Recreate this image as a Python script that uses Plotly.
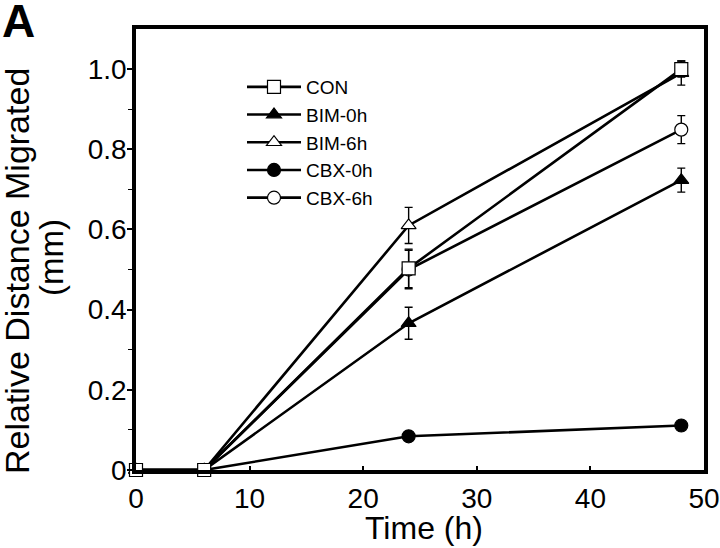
import plotly.graph_objects as go

times = [0, 6, 24, 48]
series_names = ["CON", "BIM-0h", "BIM-6h", "CBX-0h", "CBX-6h"]
con = [0, 0, 0.503, 1.00]
con_err = [0, 0, 0.048, 0.02]
bim0 = [0, 0, 0.366, 0.723]
bim0_err = [0, 0, 0.040, 0.030]
bim6 = [0, 0, 0.61, 0.99]
bim6_err = [0, 0, 0.045, 0.03]
cbx0 = [0, 0, 0.084, 0.111]
cbx0_err = [0, 0, 0, 0]
cbx6 = [0, 0, 0.50, 0.849]
cbx6_err = [0, 0, 0.048, 0.035]

y_ticks = [0, 0.2, 0.4, 0.6, 0.8, 1.0]
y_ticklabels = ["0", "0.2", "0.4", "0.6", "0.8", "1.0"]
y_minor = [0.1, 0.3, 0.5, 0.7, 0.9]
x_ticks = [0, 10, 20, 30, 40, 50]

FONT = "Liberation Sans, Arial, Helvetica, sans-serif"

W, H = 720, 548
# plot box in window pixels: x 136..704, y 29..470
ML, MR, MT, MB = 136, 16, 29, 78
PW, PH = W - ML - MR, H - MT - MB


def px_x(px):
    return (px - ML) / PW


def px_y(py):
    return (H - MB - py) / PH


styles = {
    "CON": dict(symbol="square", color="white"),
    "BIM-0h": dict(symbol="triangle-up", color="black"),
    "BIM-6h": dict(symbol="triangle-up", color="white"),
    "CBX-0h": dict(symbol="circle", color="black"),
    "CBX-6h": dict(symbol="circle", color="white"),
}
data = {
    "CON": (con, con_err),
    "BIM-0h": (bim0, bim0_err),
    "BIM-6h": (bim6, bim6_err),
    "CBX-0h": (cbx0, cbx0_err),
    "CBX-6h": (cbx6, cbx6_err),
}
draw_order = ["CBX-0h", "CBX-6h", "BIM-0h", "BIM-6h", "CON"]

fig = go.Figure()
for name in draw_order:
    vals, errs = data[name]
    st = styles[name]
    fig.add_trace(go.Scatter(
        x=times, y=vals, name=name, mode="lines+markers",
        legendrank=series_names.index(name) + 1,
        line=dict(color="black", width=2.6),
        marker=dict(symbol=st["symbol"], size=13, color=st["color"],
                    line=dict(color="black", width=1.2)),
        error_y=dict(type="data", array=errs, visible=True, color="black",
                     thickness=1.4, width=4),
        cliponaxis=False,
    ))

fig.update_layout(
    width=W, height=H,
    margin=dict(l=ML, r=MR, t=MT, b=MB, autoexpand=False),
    paper_bgcolor="white", plot_bgcolor="white",
    font=dict(family=FONT, color="black"),
    showlegend=True,
    legend=dict(x=px_x(242), y=px_y(68), xanchor="left", yanchor="top",
                font=dict(size=19, family=FONT), bgcolor="rgba(0,0,0,0)",
                itemwidth=54, traceorder="normal"),
    xaxis=dict(range=[0, 50], tickvals=x_ticks, ticks="inside", ticklen=4,
               tickwidth=1.5, tickcolor="black", automargin=False,
               showline=True, linecolor="black", linewidth=3.5, mirror=True,
               showgrid=False, zeroline=False,
               tickfont=dict(size=28), ticklabelstandoff=1),
    yaxis=dict(range=[0, 1.1], tickvals=y_ticks, ticktext=y_ticklabels,
               ticks="outside", ticklen=5, tickwidth=1.5, tickcolor="black",
               minor=dict(tickvals=y_minor, ticks="outside",
                          ticklen=4, tickwidth=1.2, tickcolor="black"),
               showline=True, linecolor="black", linewidth=3.5, mirror=True,
               showgrid=False, zeroline=False, automargin=False,
               tickfont=dict(size=28), ticklabelstandoff=-5),
    annotations=[
        dict(text="<b>A</b>", xref="paper", yref="paper",
             x=px_x(0), y=px_y(21), xanchor="left", yanchor="middle",
             showarrow=False, font=dict(size=46, family=FONT)),
        dict(text="Time (h)", xref="paper", yref="paper",
             x=px_x(424), y=px_y(528), xanchor="center", yanchor="middle",
             showarrow=False, font=dict(size=32, family=FONT)),
        dict(text="Relative Distance Migrated", xref="paper", yref="paper",
             x=px_x(17), y=px_y(271), xanchor="center", yanchor="middle",
             textangle=-90, showarrow=False, font=dict(size=34, family=FONT)),
        dict(text="(mm)", xref="paper", yref="paper",
             x=px_x(51), y=px_y(258), xanchor="center", yanchor="middle",
             textangle=-90, showarrow=False, font=dict(size=33, family=FONT)),
    ],
)

# remove the browser's default 8px page margin so the figure sits at (0, 0)
fig.write_html("out.html",
               config={"displayModeBar": False},
               post_script="document.body.style.margin='0';")
